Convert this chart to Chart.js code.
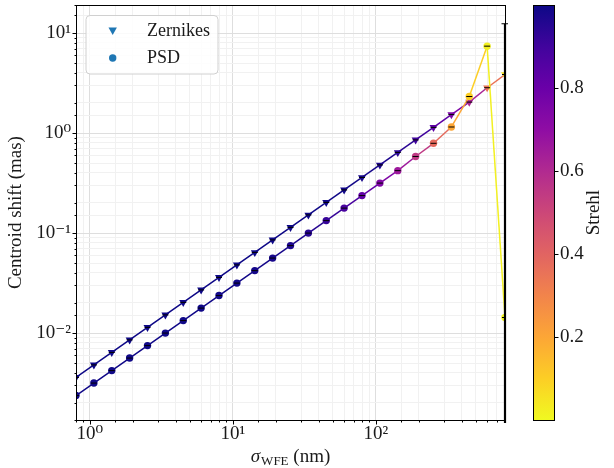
<!DOCTYPE html>
<html>
<head>
<meta charset="utf-8">
<script src="https://cdn.jsdelivr.net/npm/chart.js@4.4.1/dist/chart.umd.min.js"></script>
<style>
  html, body { margin: 0; padding: 0; background: #fff; }
  #wrap { width: 614px; height: 468px; }
</style>
</head>
<body>
<div id="wrap"><canvas id="myChart" width="614" height="468"></canvas></div>
<script>
// sigma_WFE values (nm), shared by both series
var sigmaWFE = [0.8, 1.067, 1.423, 1.897, 2.53, 3.374, 4.499, 5.999, 8, 10.67, 14.23, 18.97, 25.3,
                33.74, 44.99, 59.99, 80, 106.7, 142.3, 189.7, 253, 337.4, 449.9, 599.9, 800];

// centroid shift (mas)
var zernikeShift = [0.0036, 0.0048, 0.0064, 0.00854, 0.01139, 0.01518, 0.02025, 0.027, 0.036, 0.048,
                    0.064, 0.0854, 0.1139, 0.1518, 0.2025, 0.27, 0.36, 0.48, 0.64, 0.854, 1.14, 1.53,
                    2.04, 2.84, 3.85];
var psdShift = [0.00237, 0.00316, 0.00421, 0.00562, 0.00749, 0.00999, 0.01332, 0.01776, 0.0237, 0.0316,
                0.0421, 0.0562, 0.0749, 0.0999, 0.1332, 0.1776, 0.237, 0.316, 0.421, 0.583, 0.79, 1.15,
                2.32, 7.4, 0.0143];

// Strehl ratio of each point (colour)
var zernikeStrehl = [0.999, 0.999, 0.999, 0.999, 0.999, 0.999, 0.999, 0.999, 0.999, 0.999, 0.999, 0.998,
                     0.998, 0.997, 0.994, 0.989, 0.981, 0.967, 0.943, 0.9, 0.83, 0.75, 0.62, 0.35, 0.05];
var psdStrehl = [0.995, 0.995, 0.995, 0.995, 0.995, 0.995, 0.995, 0.995, 0.99, 0.99, 0.985, 0.98, 0.97,
                 0.95, 0.92, 0.88, 0.82, 0.74, 0.66, 0.55, 0.38, 0.2, 0.1, 0.02, 0.01];

// error bar on the last PSD point (upper end), the lower end falls below the axis
var psdLastErrTop = 12.4;
var psdLastErrBottom = 0.0001;

// ticks
var xTickVals = [1, 10, 100];
var xTickLabels = ['10\u2070', '10\u00b9', '10\u00b2'];
var yTickVals = [0.01, 0.1, 1, 10];
var yTickLabels = ['10\u207b\u00b2', '10\u207b\u00b9', '10\u2070', '10\u00b9'];
var cbTickVals = [0.2, 0.4, 0.6, 0.8];
var cbTickLabels = ['0.2', '0.4', '0.6', '0.8'];
var cbMin = 0, cbMax = 1;

var serif = "'Liberation Serif', 'DejaVu Serif', serif";
var textColor = '#1a1a1a';

// plasma colormap (used reversed)
var plasmaStops = ['#0d0887', '#41049d', '#6a00a8', '#8f0da4', '#b12a90', '#cc4778',
                   '#e16462', '#f2844b', '#fca636', '#fcce25', '#f0f921'];
function hexRgb(h) {
  return [parseInt(h.substr(1, 2), 16), parseInt(h.substr(3, 2), 16), parseInt(h.substr(5, 2), 16)];
}
function plasma(t) {
  t = Math.min(1, Math.max(0, t));
  var p = t * 10, i = Math.min(9, Math.floor(p)), f = p - i;
  var a = hexRgb(plasmaStops[i]), b = hexRgb(plasmaStops[i + 1]);
  return 'rgb(' + Math.round(a[0] + (b[0] - a[0]) * f) + ',' + Math.round(a[1] + (b[1] - a[1]) * f) + ',' +
    Math.round(a[2] + (b[2] - a[2]) * f) + ')';
}
function strehlColor(s) {
  return plasma(1 - (s - cbMin) / (cbMax - cbMin));
}

function pts(ys) {
  return sigmaWFE.map(function (x, i) { return {x: x, y: ys[i]}; });
}
function labelFor(v, vals, labels) {
  for (var i = 0; i < vals.length; i++) {
    if (Math.abs(v - vals[i]) <= vals[i] * 1e-6) return labels[i];
  }
  return '';
}
function isPow10(v) {
  var l = Math.log10(v);
  return Math.abs(l - Math.round(l)) < 1e-6;
}
function gridColor(c) {
  if (!c.tick) return 'rgba(0,0,0,0)';
  return isPow10(c.tick.value) ? '#dedede' : '#f1f1f1';
}

var zColors = zernikeStrehl.map(strehlColor);
var pColors = psdStrehl.map(strehlColor);

// extra drawing: spines, tick marks, colorbar, axis titles, legend
var extras = {
  id: 'extras',
  afterDraw: function (chart) {
    var ctx = chart.ctx, a = chart.chartArea;
    var xs = chart.scales.x, ys = chart.scales.y, cb = chart.scales.cb;
    ctx.save();

    // spines
    ctx.strokeStyle = '#000';
    ctx.lineWidth = 1;
    ctx.strokeRect(Math.round(a.left) + 0.5, Math.round(a.top) + 0.5,
      Math.round(a.right) - Math.round(a.left), Math.round(a.bottom) - Math.round(a.top));

    // tick marks, major longer than minor
    ctx.beginPath();
    xs.ticks.forEach(function (t) {
      var px = Math.round(xs.getPixelForValue(t.value)) + 0.5;
      if (px < a.left - 0.5 || px > a.right + 1) return;
      var len = isPow10(t.value) ? 4 : 2;
      ctx.moveTo(px, Math.round(a.bottom) + 0.5);
      ctx.lineTo(px, Math.round(a.bottom) + 0.5 + len);
    });
    ys.ticks.forEach(function (t) {
      var py = Math.round(ys.getPixelForValue(t.value)) + 0.5;
      if (py < a.top - 0.5 || py > a.bottom + 1) return;
      var len = isPow10(t.value) ? 4 : 2;
      ctx.moveTo(Math.round(a.left) + 0.5, py);
      ctx.lineTo(Math.round(a.left) + 0.5 - len, py);
    });
    ctx.stroke();

    // colorbar
    var cbL = a.right + 28, cbW = 21;
    var grad = ctx.createLinearGradient(0, cb.bottom, 0, cb.top);
    for (var i = 0; i <= 20; i++) {
      grad.addColorStop(i / 20, plasma(1 - i / 20));
    }
    ctx.fillStyle = grad;
    ctx.fillRect(cbL, cb.top, cbW, cb.bottom - cb.top);
    ctx.strokeStyle = '#000';
    ctx.lineWidth = 1;
    ctx.strokeRect(Math.round(cbL) + 0.5, Math.round(cb.top) + 0.5, cbW, Math.round(cb.bottom - cb.top));
    ctx.beginPath();
    cbTickVals.forEach(function (v) {
      var py = Math.round(cb.getPixelForValue(v)) + 0.5;
      ctx.moveTo(Math.round(cbL) + cbW + 0.5, py);
      ctx.lineTo(Math.round(cbL) + cbW + 4.5, py);
    });
    ctx.stroke();

    // colorbar title
    ctx.fillStyle = textColor;
    ctx.font = '19px ' + serif;
    ctx.textAlign = 'center';
    ctx.textBaseline = 'middle';
    ctx.save();
    ctx.translate(594, (cb.top + cb.bottom) / 2);
    ctx.rotate(-Math.PI / 2);
    ctx.fillText('Strehl', 0, 0);
    ctx.restore();

    // x axis title with subscript
    var f1 = 'italic 19px ' + serif, f2 = '13px ' + serif, f3 = '19px ' + serif;
    ctx.textAlign = 'left';
    ctx.textBaseline = 'alphabetic';
    ctx.font = f1; var w1 = ctx.measureText('\u03c3').width;
    ctx.font = f2; var w2 = ctx.measureText('WFE').width;
    ctx.font = f3; var w3 = ctx.measureText(' (nm)').width;
    var x0 = (a.left + a.right) / 2 - (w1 + 1 + w2 + w3) / 2, base = 462;
    ctx.font = f1; ctx.fillText('\u03c3', x0, base);
    ctx.font = f2; ctx.fillText('WFE', x0 + w1 + 1, base + 3);
    ctx.font = f3; ctx.fillText(' (nm)', x0 + w1 + 1 + w2, base);

    // legend
    var lx = 86, ly = 15.5, lw = 132, lh = 58.5, r = 4;
    ctx.beginPath();
    ctx.moveTo(lx + r, ly);
    ctx.arcTo(lx + lw, ly, lx + lw, ly + lh, r);
    ctx.arcTo(lx + lw, ly + lh, lx, ly + lh, r);
    ctx.arcTo(lx, ly + lh, lx, ly, r);
    ctx.arcTo(lx, ly, lx + lw, ly, r);
    ctx.closePath();
    ctx.fillStyle = 'rgba(255,255,255,0.85)';
    ctx.fill();
    ctx.strokeStyle = '#d0d0d0';
    ctx.stroke();

    ctx.fillStyle = '#1f77b4';
    ctx.beginPath();
    ctx.moveTo(112.7 - 4.2, 27.5);
    ctx.lineTo(112.7 + 4.2, 27.5);
    ctx.lineTo(112.7, 35);
    ctx.closePath();
    ctx.fill();
    ctx.beginPath();
    ctx.arc(112.7, 58, 3.7, 0, Math.PI * 2);
    ctx.fill();

    ctx.fillStyle = textColor;
    ctx.font = '18px ' + serif;
    ctx.textBaseline = 'middle';
    ctx.fillText('Zernikes', 147, 31);
    ctx.fillText('PSD', 147, 58);

    ctx.restore();
  }
};

var ctx = document.getElementById('myChart').getContext('2d');

var myChart = new Chart(ctx, {
  type: 'scatter',
  data: {
    datasets: [
      {
        label: 'caps Zernikes',
        data: pts(zernikeShift),
        showLine: false,
        pointStyle: 'line',
        pointRadius: 3,
        pointBorderColor: '#000',
        pointBorderWidth: 1,
        order: 0
      },
      {
        label: 'caps PSD',
        data: pts(psdShift),
        showLine: false,
        pointStyle: 'line',
        pointRadius: 3,
        pointBorderColor: '#000',
        pointBorderWidth: 1,
        order: 0
      },
      {
        label: 'PSD error',
        data: [{x: sigmaWFE[sigmaWFE.length - 1], y: psdLastErrTop},
               {x: sigmaWFE[sigmaWFE.length - 1], y: psdLastErrBottom}],
        showLine: true,
        borderColor: '#000',
        borderWidth: 2.2,
        pointStyle: 'line',
        pointRadius: [3.5, 0],
        pointBorderColor: '#000',
        pointBorderWidth: 1.2,
        clip: 3,
        order: 1
      },
      {
        label: 'PSD',
        data: pts(psdShift),
        showLine: true,
        borderWidth: 1.5,
        borderColor: pColors[0],
        segment: {
          borderColor: function (c) { return pColors[c.p0DataIndex]; }
        },
        pointStyle: 'circle',
        pointRadius: 3.7,
        pointBackgroundColor: pColors,
        pointBorderColor: pColors,
        pointBorderWidth: 0,
        order: 2
      },
      {
        label: 'Zernikes',
        data: pts(zernikeShift),
        showLine: true,
        borderWidth: 1.5,
        borderColor: zColors[0],
        segment: {
          borderColor: function (c) { return zColors[c.p0DataIndex]; }
        },
        pointStyle: 'triangle',
        rotation: 180,
        pointRadius: 4.6,
        pointBackgroundColor: zColors,
        pointBorderColor: zColors,
        pointBorderWidth: 0,
        order: 3
      }
    ]
  },
  options: {
    responsive: false,
    animation: false,
    events: [],
    layout: {padding: {top: 5, left: 0, right: 0, bottom: 0}},
    plugins: {
      legend: {display: false},
      tooltip: {enabled: false}
    },
    scales: {
      x: {
        type: 'logarithmic',
        min: 0.8,
        max: 800,
        border: {display: false},
        grid: {color: gridColor, drawTicks: false, lineWidth: 1},
        ticks: {
          autoSkip: false,
          maxRotation: 0,
          minRotation: 0,
          padding: 3,
          color: textColor,
          font: {family: serif, size: 19},
          callback: function (v) { return labelFor(v, xTickVals, xTickLabels); }
        },
        afterFit: function (s) { s.height = 48; s.paddingLeft = 0; s.paddingRight = 0; }
      },
      y: {
        type: 'logarithmic',
        min: 0.00135,
        max: 19,
        border: {display: false},
        grid: {color: gridColor, drawTicks: false, lineWidth: 1},
        title: {
          display: true,
          text: 'Centroid shift (mas)',
          color: textColor,
          font: {family: serif, size: 19},
          padding: {top: 5, bottom: 0}
        },
        ticks: {
          autoSkip: false,
          padding: 5,
          color: textColor,
          font: {family: serif, size: 19},
          callback: function (v) { return labelFor(v, yTickVals, yTickLabels); }
        },
        afterFit: function (s) { s.width = 76; s.paddingTop = 0; s.paddingBottom = 0; }
      },
      cb: {
        axis: 'y',
        type: 'linear',
        position: 'right',
        min: cbMin,
        max: cbMax,
        border: {display: false},
        grid: {display: false, drawTicks: false},
        ticks: {
          padding: 55,
          color: textColor,
          font: {family: serif, size: 19},
          callback: function (v) { return labelFor(v, cbTickVals, cbTickLabels); }
        },
        afterBuildTicks: function (s) {
          s.ticks = cbTickVals.map(function (v) { return {value: v}; });
        },
        afterFit: function (s) { s.width = 109; s.paddingTop = 0; s.paddingBottom = 0; }
      }
    }
  },
  plugins: [extras]
});
</script>
</body>
</html>
